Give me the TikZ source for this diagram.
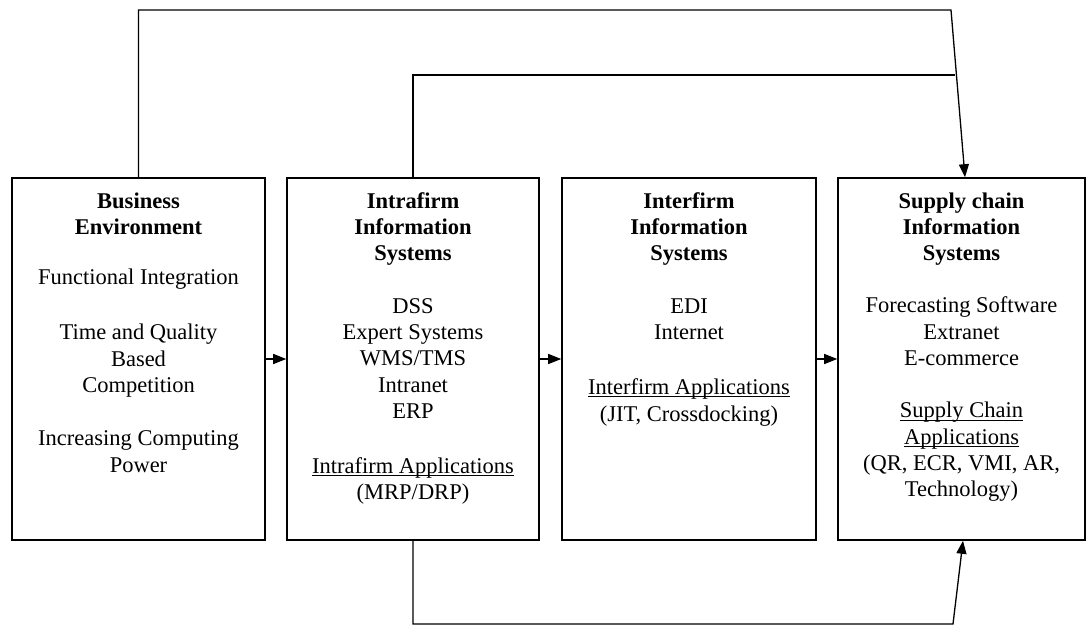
\documentclass[tikz,border=0pt]{standalone}
\usepackage{fontspec}
\setmainfont{Liberation Serif}
\usetikzlibrary{arrows.meta,calc}
% underline drawn just below the baseline, through the descenders
\newcommand\ulText[1]{\setbox0=\hbox{#1}\rlap{\rule[-2.6pt]{\wd0}{0.9pt}}\box0}
\begin{document}
\begin{tikzpicture}[x=1pt,y=1pt,
  stagebox/.style={draw,line width=1.6pt,inner sep=0pt},
  stagetext/.style={anchor=north,inner sep=0pt,align=center,
    font=\fontsize{22.5}{26.3}\selectfont},
  link/.style={line width=1.3pt},
  flow/.style={link,-{Triangle[length=13pt,width=10pt]}}]
\useasboundingbox (0,0) rectangle (1087,626);

% the four stages
\node[stagebox,minimum width=253,minimum height=362] (b1) at (138.5,267) {};
\node[stagebox,minimum width=252,minimum height=362] (b2) at (413,267) {};
\node[stagebox,minimum width=254,minimum height=362] (b3) at (689,267) {};
\node[stagebox,minimum width=247,minimum height=362] (b4) at (961.5,267) {};

% stage contents
\node[stagetext] (t1) at ($(b1.north)+(0,-15)$) {%
  \textbf{Business}\\\textbf{Environment}\\[24pt]
  Functional Integration\\[29pt]
  Time and Quality\\Based\\Competition\\[27pt]
  Increasing Computing\\Power};
\node[stagetext] (t2) at ($(b2.north)+(0,-15)$) {%
  \textbf{Intrafirm}\\\textbf{Information}\\\textbf{Systems}\\[26pt]
  DSS\\Expert Systems\\WMS/TMS\\Intranet\\ERP\\[29pt]
  \ulText{Intrafirm Applications}\\(MRP/DRP)};
\node[stagetext] (t3) at ($(b3.north)+(0,-15)$) {%
  \textbf{Interfirm}\\\textbf{Information}\\\textbf{Systems}\\[26pt]
  EDI\\Internet\\[29pt]
  \ulText{Interfirm Applications}\\(JIT, Crossdocking)};
\node[stagetext] (t4) at ($(b4.north)+(0,-15)$) {%
  \textbf{Supply chain}\\\textbf{Information}\\\textbf{Systems}\\[26pt]
  Forecasting Software\\Extranet\\E-commerce\\[26pt]
  \ulText{Supply Chain}\\\ulText{Applications}\\(QR, ECR, VMI, AR,\\Technology)};

% sequential flow
\draw[flow] (b1.east) -- (b2.west);
\draw[flow] (b2.east) -- (b3.west);
\draw[flow] (b3.east) -- (b4.west);

% feedback routes into supply chain systems
\coordinate (topA) at (951,616);
\coordinate (topB) at (955,551);
\coordinate (botA) at (953,2);
\coordinate (inTop) at ($(b4.north)+(3.5,0)$);
\coordinate (inBot) at ($(b4.south)+(1.5,0)$);
\draw[flow] (b1.north) |- (topA) -- (inTop);
\draw[link] (b2.north) |- (topB);
\draw[flow] (b2.south) |- (botA) -- (inBot);
\end{tikzpicture}
\end{document}
